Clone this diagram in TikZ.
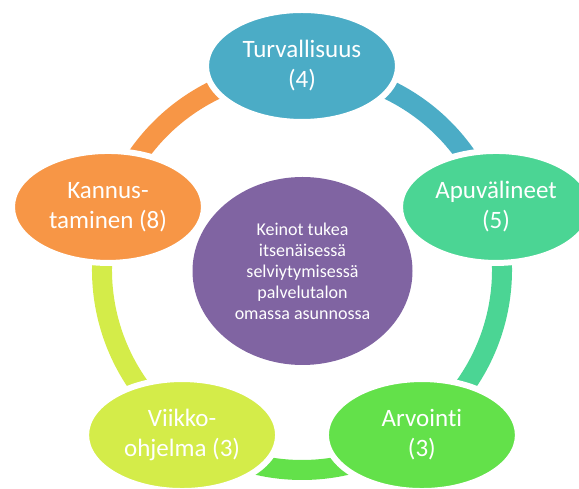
\documentclass[tikz,border=0pt]{standalone}
\usepackage{fontspec}
\setmainfont{Carlito}[Ligatures=NoCommon]
\usetikzlibrary{shapes.geometric}
\definecolor{cteal}{HTML}{4BACC6}
\definecolor{cgreenA}{HTML}{4BD594}
\definecolor{cgreenB}{HTML}{63E14A}
\definecolor{clime}{HTML}{D4EC49}
\definecolor{corange}{HTML}{F79646}
\definecolor{cpurple}{HTML}{8064A2}
\begin{document}
\begin{tikzpicture}[x=1pt,y=1pt,
  ring/.style={line width=20pt},
  item/.style={ellipse, draw=white, line width=6pt, minimum width=192pt, minimum height=112pt,
    inner sep=0pt, text=white, font=\fontsize{25}{30}\selectfont, align=center},
  hub/.style={ellipse, fill=cpurple, minimum width=220pt, minimum height=188pt,
    inner sep=0pt, text=white, font=\fontsize{18}{21}\selectfont, align=center}]
\useasboundingbox (0,0) rectangle (579,489);
\clip (0,0) rectangle (579,489);
\coordinate (c) at (302,219);
\draw[ring, cteal]   ([shift={(90:200)}]c)   arc[start angle=90,   end angle=18,   radius=200pt];
\draw[ring, cgreenA] ([shift={(18:200)}]c)   arc[start angle=18,   end angle=-54,  radius=200pt];
\draw[ring, cgreenB] ([shift={(-54:200)}]c)  arc[start angle=-54,  end angle=-126, radius=200pt];
\draw[ring, clime]   ([shift={(-126:200)}]c) arc[start angle=-126, end angle=-198, radius=200pt];
\draw[ring, corange] ([shift={(162:200)}]c)  arc[start angle=162,  end angle=90,   radius=200pt];
\node[hub] (hub) at (302.5,218) {Keinot tukea\\itsenäisessä\\selviytymisessä\\palvelutalon\\omassa asunnossa};
\node[item, fill=cteal]   (turv) at ([shift={(90:204)}]c)   {Turvallisuus\\(4)};
\node[item, fill=cgreenA] (apu)  at ([shift={(18:204)}]c)   {Apuvälineet\\(5)};
\node[item, fill=cgreenB] (arv)  at ([shift={(-54:204)}]c)  {Arvointi\\(3)};
\node[item, fill=clime]   (viik) at ([shift={(-126:204)}]c) {Viikko-\\ohjelma (3)};
\node[item, fill=corange] (kan)  at ([shift={(162:204)}]c)  {Kannus-\\taminen (8)};
\end{tikzpicture}
\end{document}
